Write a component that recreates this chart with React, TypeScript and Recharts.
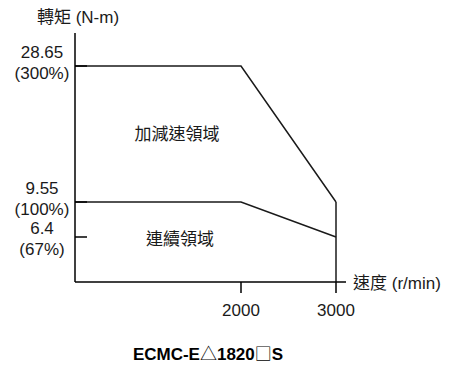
import { LineChart, Line, XAxis, YAxis } from "recharts";

// speed (r/min) and torque (N-m)
const speeds = [0, 2000, 3000];
const peakTorque = [28.65, 28.65, 9.55];
const ratedTorque = [9.55, 9.55, 6.4];

const torqueTicks = [28.65, 9.55, 6.4];
const torquePercent = ["300%", "100%", "67%"];
const speedTicks = [2000, 3000];

const peakData = speeds.map((s, i) => ({ speed: s, torque: peakTorque[i] }));
const ratedData = speeds.map((s, i) => ({ speed: s, torque: ratedTorque[i] }));
const dropData = [
    { speed: speeds[speeds.length - 1], torque: peakTorque[peakTorque.length - 1] },
    { speed: speeds[speeds.length - 1], torque: 0 },
];

// the drawing is a schematic, so the axes are not linear: piecewise breaks
function breakScale(stops: number[], fracs: number[]): any {
    let dom = [stops[0], stops[stops.length - 1]];
    let rng = [0, 1];
    const scale: any = (v: number) => {
        let i = 1;
        while (i < stops.length - 1 && v > stops[i]) i += 1;
        const t = (v - stops[i - 1]) / (stops[i] - stops[i - 1]);
        const f = fracs[i - 1] + t * (fracs[i] - fracs[i - 1]);
        return rng[0] + f * (rng[1] - rng[0]);
    };
    scale.domain = (d?: number[]) => {
        if (!d) return dom;
        dom = d;
        return scale;
    };
    scale.range = (r?: number[]) => {
        if (!r) return rng;
        rng = r;
        return scale;
    };
    scale.ticks = () => stops.slice();
    scale.copy = () => breakScale(stops, fracs).domain(dom).range(rng);
    return scale;
}

const xScale = breakScale([0, 2000, 3000, 3120], [0, 166 / 271, 261 / 271, 1]);
const yScale = breakScale([0, 6.4, 9.55, 28.65, 33], [0, 45 / 249, 80 / 249, 216 / 249, 1]);

const FONT = "'Liberation Sans', Arial, 'Noto Sans CJK TC', sans-serif";
const CJK = "'Noto Sans CJK TC', sans-serif";
const INK = "#1a1a1a";

const YTick = (props: any) => {
    const { x, y, payload } = props;
    const i = torqueTicks.indexOf(payload.value);
    const low = i === torqueTicks.length - 1;
    return (
        <g>
            <line x1={x} y1={y} x2={x + 12} y2={y} stroke="#000" strokeWidth={1.5} />
            <text x={x - 33} y={y + (low ? -3 : -8)} textAnchor="middle" fontSize={17} fill={INK} fontFamily={FONT}>
                {payload.value}
            </text>
            <text x={x - 33} y={y + (low ? 18 : 13)} textAnchor="middle" fontSize={17} fill={INK} fontFamily={FONT}>
                ({torquePercent[i]})
            </text>
        </g>
    );
};

const XTick = (props: any) => {
    const { x, y, payload } = props;
    return (
        <g>
            <line x1={x} y1={y} x2={x} y2={y + 11} stroke="#000" strokeWidth={1.5} />
            <text x={x} y={y + 34} textAnchor="middle" fontSize={17} fill={INK} fontFamily={FONT}>
                {payload.value}
            </text>
        </g>
    );
};

const abs = (left: number, top: number, extra: any = {}) => ({
    position: "absolute" as const,
    left,
    top,
    transform: "translate(-50%, -50%)",
    whiteSpace: "nowrap" as const,
    lineHeight: 1,
    fontFamily: FONT,
    fontSize: 17,
    color: INK,
    ...extra,
});

export default function App() {
    return (
        <div style={{ position: "absolute", left: 0, top: 0, width: 450, height: 367, background: "#fff" }}>
            <LineChart width={450} height={367} margin={{ top: 33, right: 104, bottom: 84, left: 74 }}>
                <XAxis
                    type="number"
                    dataKey="speed"
                    domain={[0, 3120]}
                    scale={xScale}
                    ticks={speedTicks}
                    height={1}
                    tickSize={0}
                    tickMargin={0}
                    tickLine={false}
                    axisLine={{ stroke: "#000", strokeWidth: 1.5 }}
                    tick={<XTick />}
                    allowDataOverflow
                />
                <YAxis
                    type="number"
                    dataKey="torque"
                    domain={[0, 33]}
                    scale={yScale}
                    ticks={torqueTicks}
                    width={1}
                    tickSize={0}
                    tickMargin={0}
                    tickLine={false}
                    axisLine={{ stroke: "#000", strokeWidth: 1.5 }}
                    tick={<YTick />}
                    interval={0}
                    allowDataOverflow
                />
                <Line data={peakData} dataKey="torque" stroke={INK} strokeWidth={1.5} dot={false} isAnimationActive={false} />
                <Line data={dropData} dataKey="torque" stroke={INK} strokeWidth={1.5} dot={false} isAnimationActive={false} />
                <Line data={ratedData} dataKey="torque" stroke={INK} strokeWidth={1.5} dot={false} isAnimationActive={false} />
            </LineChart>
            <div style={abs(78, 17)}>轉矩 (N-m)</div>
            <div style={abs(353, 283, { transform: "translate(0, -50%)" })}>速度 (r/min)</div>
            <div style={abs(177, 134)}>加減速領域</div>
            <div style={abs(180, 239)}>連續領域</div>
            <div style={abs(208, 353, { fontWeight: "bold", fontSize: 17, color: "#000" })}>
                ECMC-E<span style={{ fontFamily: CJK, fontWeight: "normal" }}>△</span>1820
                <span style={{ fontFamily: CJK, fontWeight: "normal" }}>□</span>S
            </div>
        </div>
    );
}
